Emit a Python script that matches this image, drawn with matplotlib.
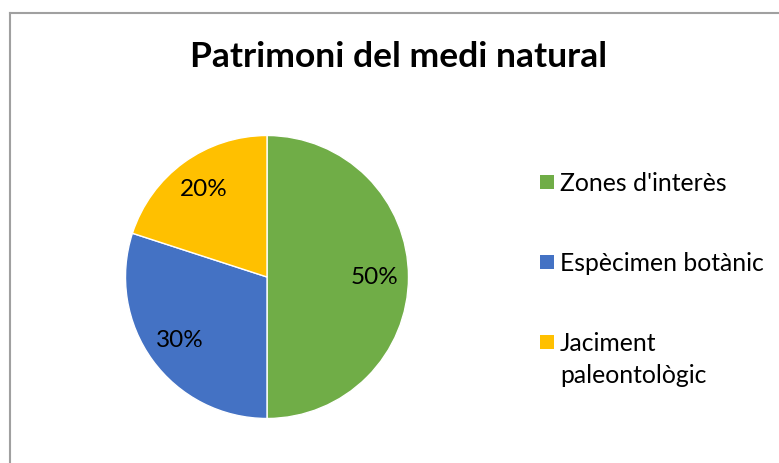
import matplotlib.pyplot as plt
from matplotlib.lines import Line2D
from matplotlib.patches import Rectangle

# Data
labels = ["Zones d'interès", "Espècimen botànic", "Jaciment\npaleontològic"]
values = [50, 30, 20]
colors = ["#70AD47", "#4472C4", "#FFC000"]

W, H = 779, 463
plt.rcParams['font.family'] = ['Lato', 'DejaVu Sans']

fig = plt.figure(figsize=(W / 100, H / 100), dpi=100)

# chart border (only top and left visible)
fig.add_artist(Line2D([10 / W, 10 / W], [0, 1 - 13 / H], color="#A0A0A0", lw=1.5))
fig.add_artist(Line2D([10 / W, 1], [1 - 13 / H, 1 - 13 / H], color="#A0A0A0", lw=1.5))

# pie, centre (267, 277) px, radius ~141 px
cx, cy, r = 267, 277, 141.5
ax = fig.add_axes([(cx - r) / W, (H - cy - r) / H, 2 * r / W, 2 * r / H])
wedges, texts, autotexts = ax.pie(
    values, colors=colors, startangle=90, counterclock=False,
    autopct='%1.0f%%', pctdistance=0.76,
    wedgeprops=dict(edgecolor="white", linewidth=1),
    textprops=dict(fontsize=17.5, color="black"))
ax.set_xlim(-1, 1)
ax.set_ylim(-1, 1)
ax.set_aspect('equal')

fig.text(399 / W, 1 - 57 / H, "Patrimoni del medi natural", ha='center', va='center',
         fontsize=25.5, fontweight='bold', color="black")

# legend entries
row_y = [182, 262, 342]
for lab, col, y in zip(labels, colors, row_y):
    fig.add_artist(Rectangle((540 / W, 1 - (y + 7) / H), 14 / W, 14 / H,
                             facecolor=col, edgecolor='none'))
    fig.text(560 / W, 1 - (y - 10) / H, lab, ha='left', va='top',
             fontsize=17.8, color="black", linespacing=1.45)

fig.savefig("out.png", dpi=100)
